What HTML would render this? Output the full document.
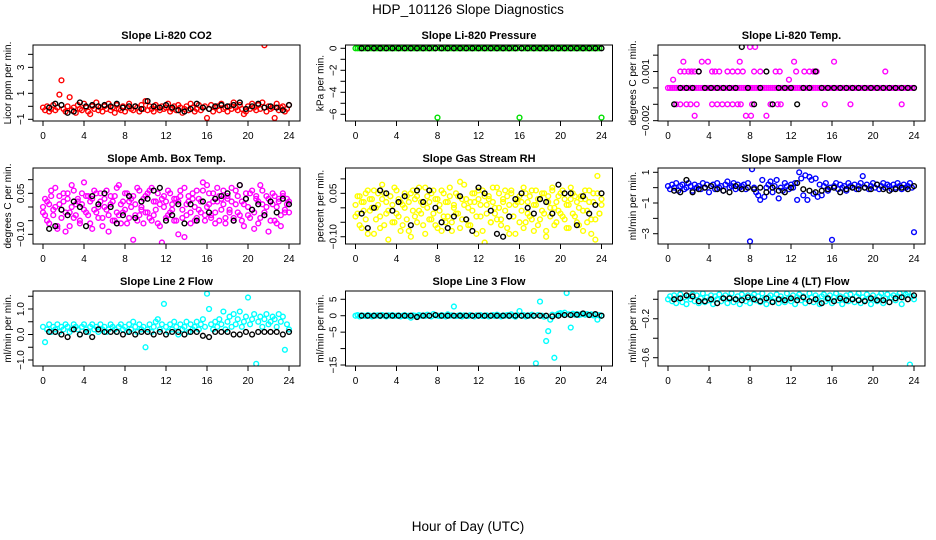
<!DOCTYPE html>
<html><head><meta charset="utf-8"><style>
html,body{margin:0;padding:0;background:#fff}
svg{display:block;font-family:"Liberation Sans",Arial,sans-serif}
</style></head><body>
<svg id="chart" width="936" height="540" viewBox="0 0 936 540" xmlns="http://www.w3.org/2000/svg">
<text x="468" y="14" text-anchor="middle" font-size="13.5">HDP_101126  Slope Diagnostics</text>
<text x="468" y="531" text-anchor="middle" font-size="13.5">Hour of Day (UTC)</text>
</svg>
<script>
const hourGrid=[0,0.2,0.4,0.6,0.8,1,1.2,1.4,1.6,1.8,2,2.2,2.4,2.6,2.8,3,3.2,3.4,3.6,3.8,4,4.2,4.4,4.6,4.8,5,5.2,5.4,5.6,5.8,6,6.2,6.4,6.6,6.8,7,7.2,7.4,7.6,7.8,8,8.2,8.4,8.6,8.8,9,9.2,9.4,9.6,9.8,10,10.2,10.4,10.6,10.8,11,11.2,11.4,11.6,11.8,12,12.2,12.4,12.6,12.8,13,13.2,13.4,13.6,13.8,14,14.2,14.4,14.6,14.8,15,15.2,15.4,15.6,15.8,16,16.2,16.4,16.6,16.8,17,17.2,17.4,17.6,17.8,18,18.2,18.4,18.6,18.8,19,19.2,19.4,19.6,19.8,20,20.2,20.4,20.6,20.8,21,21.2,21.4,21.6,21.8,22,22.2,22.4,22.6,22.8,23,23.2,23.4,23.6,23.8,24];
const blackHours=[0.6,1.2,1.8,2.4,3,3.6,4.2,4.8,5.4,6,6.6,7.2,7.8,8.4,9,9.6,10.2,10.8,11.4,12,12.6,13.2,13.8,14.4,15,15.6,16.2,16.8,17.4,18,18.6,19.2,19.8,20.4,21,21.6,22.2,22.8,23.4,24];
const xTicks=[0,4,8,12,16,20,24];

const co2Values=[-0.1,-0.3,0.0,-0.4,-0.2,0.1,-0.3,-0.1,0.9,2.0,-0.2,-0.4,0.0,0.7,-0.3,-0.1,-0.5,0.1,-0.2,-0.3,0.2,-0.1,-0.4,-0.6,0.0,-0.2,0.3,-0.3,-0.1,-0.4,0.0,-0.2,0.2,-0.3,-0.1,-0.5,0.1,-0.2,-0.3,0.0,-0.4,-0.1,0.2,-0.2,-0.3,0.0,-0.1,-0.4,0.1,-0.2,0.4,-0.3,0.0,-0.2,-0.4,0.1,-0.1,-0.3,0.0,-0.2,-0.1,0.2,-0.4,-0.2,0.0,-0.3,0.1,-0.1,-0.5,-0.2,0.0,-0.3,0.2,-0.1,-0.4,-0.2,0.1,-0.3,-0.1,0.0,-0.9,-0.2,0.1,-0.4,-0.1,0.0,-0.3,0.2,-0.2,-0.1,-0.4,0.0,-0.2,0.3,-0.1,-0.3,0.1,-0.2,-0.6,-0.4,0.0,-0.2,0.2,-0.1,-0.3,0.1,-0.2,0.3,4.7,-0.4,0.0,-0.2,-0.1,-0.9,0.2,-0.3,-0.1,0.0,-0.4,-0.2,0.1];
const co2Black=[-0.1,0.2,0.1,-0.5,-0.4,0.3,0.0,0.1,0.0,0.1,0.0,0.2,-0.1,0.0,0.0,-0.2,0.4,0.0,-0.1,0.1,-0.1,-0.3,-0.4,-0.2,0.2,-0.1,-0.2,0.0,0.1,0.0,0.1,0.3,-0.2,0.0,0.2,-0.1,0.0,-0.1,-0.3,0.1];

const pressureValues=[0,0,0,0,0,0,0,0,0,0,0,0,0,0,0,0,0,0,0,0,0,0,0,0,0,0,0,0,0,0,0,0,0,0,0,0,0,0,0,0,-6.3,0,0,0,0,0,0,0,0,0,0,0,0,0,0,0,0,0,0,0,0,0,0,0,0,0,0,0,0,0,0,0,0,0,0,0,0,0,0,0,-6.3,0,0,0,0,0,0,0,0,0,0,0,0,0,0,0,0,0,0,0,0,0,0,0,0,0,0,0,0,0,0,0,0,0,0,0,0,0,0,0,-6.3];
const pressureBlack=[0,0,0,0,0,0,0,0,0,0,0,0,0,0,0,0,0,0,0,0,0,0,0,0,0,0,0,0,0,0,0,0,0,0,0,0,0,0,0,0];

const tempValues=[0,0,0,0,0,0,0,0,0,0,0,0,0,0,0,0,0,0,0,0,0,0,0,0,0,0,0,0,0,0,0,0,0,0,0,0,0,0,0,0,0,0,0,0,0,0,0,0,0,0,0,0,0,0,0,0,0,0,0,0,0,0,0,0,0,0,0,0,0,0,0,0,0,0,0,0,0,0,0,0,0,0,0,0,0,0,0,0,0,0,0,0,0,0,0,0,0,0,0,0,0,0,0,0,0,0,0,0,0,0,0,0,0,0,0,0,0,0,0,0,0];
const tempExtraHours=[0.5,1.2,1.5,1.6,2.0,2.3,2.6,3.0,3.3,3.9,4.3,4.6,5.0,5.8,6.3,6.8,7.0,7.3,8.0,8.5,8.4,9.0,10.5,10.9,11.8,12.3,12.5,13.3,13.8,14.2,14.5,16.2,21.2,0.8,1.2,1.8,2.2,2.6,2.8,4.3,4.8,5.3,5.8,6.3,6.8,7.1,7.6,8.1,8.2,9.6,10.0,10.7,11.0,15.3,17.8,22.8];
const tempExtraValues=[0.0005,0.001,0.0016,0.001,0.001,0.001,0.001,0.001,0.0016,0.0016,0.001,0.001,0.001,0.001,0.001,0.001,0.0016,0.001,0.0025,0.0025,0.001,0.001,0.001,0.001,0.0005,0.0016,0.001,0.001,0.001,0.001,0.001,0.0016,0.001,-0.001,-0.001,-0.001,-0.001,-0.0017,-0.001,-0.001,-0.001,-0.001,-0.001,-0.001,-0.001,-0.001,-0.0017,-0.0017,-0.001,-0.0017,-0.001,-0.001,-0.001,-0.001,-0.001,-0.001];
const tempBlack=[-0.001,0,0,0,0.001,0,0,0,0,0,0,0.0025,0,-0.001,0,0.001,-0.001,0,0,0,-0.001,0,0,0.001,0,0,0,0,0,0,0,0,0,0,0,0,0,0,0,0];

const ambValues=[0.00,-0.03,0.02,-0.06,0.04,-0.01,0.07,-0.08,0.01,-0.04,0.05,-0.02,0.03,-0.07,0.00,0.06,-0.03,0.02,-0.05,0.01,0.09,-0.02,0.04,-0.06,0.03,-0.01,0.05,-0.04,0.02,-0.07,0.00,0.06,-0.03,0.01,-0.05,0.04,-0.02,0.08,-0.06,0.02,-0.01,0.05,-0.04,0.03,-0.12,0.01,0.07,-0.03,0.00,-0.06,0.04,-0.02,0.06,-0.05,0.02,-0.01,0.05,-0.07,0.03,0.00,-0.04,0.06,-0.02,0.01,-0.05,0.03,-0.10,0.04,-0.01,0.07,-0.03,0.02,-0.06,0.05,0.00,-0.04,0.03,-0.02,0.06,-0.05,0.08,0.01,-0.03,0.05,-0.06,0.02,0.04,-0.01,0.06,-0.04,0.03,-0.02,0.07,-0.05,0.01,0.04,-0.03,0.02,-0.07,0.05,0.00,-0.04,0.06,-0.02,0.03,-0.06,0.08,0.01,-0.03,0.04,-0.09,0.02,0.05,-0.05,0.00,0.03,-0.07,0.04,-0.02,0.01,0.02];
const ambValues2=[-0.02,0.03,-0.05,0.01,0.06,-0.03,0.00,-0.07,0.04,-0.01,0.02,-0.09,0.05,-0.02,0.08,-0.04,0.01,0.03,-0.06,0.05,-0.01,0.04,-0.03,0.02,-0.08,0.06,-0.02,0.00,0.05,-0.04,0.03,-0.01,-0.09,0.04,0.02,-0.05,0.07,-0.03,0.01,-0.02,0.05,-0.06,0.02,0.00,0.04,-0.03,-0.05,0.06,-0.01,0.03,-0.02,0.05,-0.04,0.07,-0.03,0.02,-0.06,0.01,-0.13,0.04,0.02,-0.03,0.05,-0.01,0.03,-0.05,0.02,0.06,-0.04,-0.11,0.01,0.04,-0.02,0.03,-0.05,0.06,-0.01,0.02,0.09,-0.03,0.00,0.05,-0.04,0.02,-0.02,0.07,-0.05,0.03,0.01,-0.06,0.04,-0.01,0.02,-0.04,0.06,-0.02,0.08,-0.05,0.01,0.03,-0.03,0.05,-0.01,-0.08,0.04,0.02,-0.04,0.06,-0.02,0.00,0.03,-0.05,0.01,0.04,-0.06,0.02,-0.03,0.05,-0.01,0.03,-0.02];
const ambBlack=[-0.08,-0.07,-0.01,-0.03,0.02,0.00,-0.07,0.04,0.01,0.05,0.00,-0.06,-0.03,0.04,-0.04,0.02,0.03,0.06,0.07,-0.05,-0.03,0.01,-0.06,0.01,-0.05,0.02,-0.02,0.03,0.04,0.05,-0.05,0.08,0.03,-0.01,0.01,-0.03,0.02,-0.02,0.03,0.01];

const rhValues=[0.01,-0.02,0.04,-0.07,0.02,-0.04,0.06,-0.01,0.03,-0.09,0.00,0.05,-0.03,0.08,-0.06,0.02,-0.01,0.04,-0.05,0.07,-0.02,0.03,-0.08,0.01,0.05,-0.04,0.02,-0.10,0.06,-0.03,0.04,-0.01,0.02,-0.06,0.07,0.00,-0.04,0.05,-0.02,0.03,-0.07,0.01,0.06,-0.03,-0.05,0.02,0.04,-0.08,0.00,0.05,-0.02,0.09,-0.04,0.01,0.03,-0.06,0.02,-0.01,0.05,-0.09,0.03,-0.03,0.06,-0.12,0.01,0.04,-0.05,0.02,-0.02,0.07,0.00,-0.04,0.03,0.06,-0.07,0.01,0.05,-0.03,-0.09,0.02,0.04,-0.01,0.07,-0.05,0.02,-0.03,0.06,-0.08,0.01,0.03,-0.04,0.05,-0.02,-0.10,0.04,0.00,0.06,-0.06,0.02,-0.01,0.05,-0.03,0.03,-0.07,0.01,0.07,-0.02,0.04,-0.05,0.00,0.03,-0.08,0.06,-0.01,0.02,-0.04,0.05,-0.11,0.11,-0.02,0.01];
const rhValues2=[-0.03,0.04,-0.06,0.02,-0.01,0.05,-0.09,0.03,0.00,0.06,-0.04,0.01,-0.07,0.03,0.05,-0.02,-0.11,0.04,0.01,-0.05,0.06,-0.03,0.02,-0.06,0.00,0.04,-0.08,0.05,-0.01,0.03,-0.05,0.07,-0.02,0.01,-0.09,0.04,0.02,-0.04,0.06,-0.06,0.03,-0.01,-0.08,0.05,0.02,-0.03,0.07,-0.05,0.01,-0.02,0.04,-0.07,0.03,0.08,-0.04,0.00,-0.06,0.05,0.02,-0.03,0.06,0.01,-0.08,0.04,-0.02,0.03,-0.05,0.07,0.00,-0.04,0.05,-0.06,0.02,-0.01,0.04,-0.09,0.06,-0.03,0.01,0.03,-0.05,0.02,-0.07,0.05,-0.02,0.04,-0.04,0.01,0.06,-0.06,0.03,-0.01,0.05,-0.08,0.02,-0.03,0.07,0.00,-0.05,0.04,-0.02,0.06,-0.04,0.01,-0.07,0.03,0.05,-0.03,0.02,-0.06,0.04,-0.01,0.03,-0.05,0.06,-0.09,0.02,-0.04,0.05,-0.02,0.03];
const rhBlack=[-0.02,-0.07,0.00,0.06,0.05,-0.01,0.02,0.04,-0.06,0.06,0.02,0.06,0.00,-0.05,-0.07,-0.03,0.04,-0.04,-0.08,0.07,0.05,-0.01,-0.09,-0.10,-0.03,0.03,0.05,0.00,-0.02,0.03,0.02,-0.02,0.08,0.05,0.05,-0.06,0.04,-0.02,0.01,0.05];

const sampleValues=[0.1,-0.1,0.2,0.0,0.3,-0.2,0.1,0.2,-0.1,0.0,0.3,0.1,-0.2,0.2,0.0,0.1,-0.1,0.3,0.0,0.2,-0.3,0.1,0.2,-0.1,0.3,0.0,0.1,-0.2,0.2,0.4,0.0,0.1,0.3,-0.1,0.2,0.0,0.1,0.2,-0.1,0.3,-3.5,1.2,0.0,-0.3,-0.5,-0.8,0.5,-0.6,0.0,0.2,0.4,-0.3,0.1,0.5,-0.7,0.0,-0.2,0.3,0.1,-0.1,0.2,0.0,0.3,-0.8,1.0,0.6,-0.5,0.8,-0.8,0.7,0.5,-0.4,0.6,-0.6,0.2,-0.5,0.1,0.3,-0.2,0.0,-3.4,0.1,0.3,-0.1,0.2,0.0,0.1,-0.2,0.3,0.1,0.0,0.2,-0.1,0.1,0.3,0.75,0.0,0.2,-0.1,0.1,0.3,0.0,0.2,-0.1,0.1,0.3,0.0,0.2,0.1,-0.1,0.2,0.0,0.3,0.1,-0.1,0.2,0.0,0.1,0.3,0.0,-2.9];
const sampleBlack=[-0.2,-0.3,0.5,-0.3,-0.1,0.0,0.1,-0.1,-0.2,-0.3,0.1,-0.1,0.0,-0.1,0.0,-0.3,0.0,-0.2,-0.3,0.0,0.3,-0.1,-0.2,-0.3,-0.2,-0.1,0.0,-0.3,-0.1,0.0,-0.1,0.0,-0.1,0.2,-0.1,-0.2,-0.1,0.0,-0.1,0.1];

const line2Values=[0.3,-0.3,0.2,0.4,0.1,0.3,0.2,0.4,0.1,0.3,0.2,0.4,0.3,0.1,0.2,0.4,0.3,0.2,0.0,0.3,0.4,0.2,0.1,0.3,0.4,0.2,0.3,0.1,0.4,0.2,0.3,0.1,0.2,0.4,0.3,0.2,0.1,0.3,0.4,0.2,0.3,0.1,0.4,0.2,0.5,0.3,0.1,0.4,0.2,0.3,-0.5,0.2,0.4,0.1,0.3,0.5,0.6,0.2,0.4,1.2,0.3,0.1,0.4,0.2,0.5,0.3,0.0,0.4,0.2,0.3,0.5,0.1,0.4,0.2,0.3,0.5,0.2,0.4,0.6,0.3,1.6,1.0,0.4,0.2,0.5,0.3,0.6,0.4,0.9,0.2,0.5,0.7,0.3,0.8,0.4,0.6,0.9,0.3,0.5,0.7,1.45,0.4,0.6,0.8,-1.15,0.5,0.7,0.3,0.6,0.8,0.4,0.5,0.7,0.6,0.3,0.8,0.5,0.7,-0.6,0.4,0.2];
const line2Black=[0.1,0.1,0.0,-0.1,0.2,0.0,0.1,-0.1,0.2,0.1,0.1,0.1,0.0,0.1,0.0,0.1,0.1,0.0,0.1,0.0,0.1,0.1,0.0,0.1,0.1,-0.05,-0.1,0.1,0.1,0.1,0.0,0.0,0.1,0.0,0.1,0.1,0.1,0.1,0.0,0.1];

const line3Values=[0.0,0.2,-0.2,0.1,0.0,-0.1,0.2,0.0,-0.2,0.1,0.0,0.1,-0.1,0.2,0.0,-0.2,0.1,0.0,0.2,-0.1,0.0,0.1,-0.2,0.0,0.2,-0.1,0.0,-0.6,0.1,0.0,-0.2,0.2,0.0,0.1,-0.1,0.3,0.0,-0.2,0.5,0.1,0.0,-0.1,0.2,0.0,-0.2,0.4,0.0,0.1,2.8,-0.1,0.0,0.2,-0.2,0.1,0.0,-0.1,0.2,0.0,-0.2,0.1,0.0,0.2,-0.1,0.0,0.1,-0.2,0.0,0.2,-0.1,0.3,0.0,-0.2,0.1,0.0,0.2,-0.1,0.4,0.0,-0.3,0.2,1.4,0.0,0.2,-0.2,0.1,0.0,0.3,-0.1,-14.5,0.2,4.3,0.0,-0.3,-7.7,-4.7,-1.2,0.3,-12.8,0.2,0.6,0.8,0.5,0.9,6.9,0.4,-3.6,0.6,0.3,0.5,0.2,0.4,0.6,0.3,0.5,0.2,0.4,0.1,0.3,-1.2,0.2,0.0];
const line3Black=[0,0,0,0,0,0,0,0,0,-0.4,0,0,0.2,0,0,0,0,0,0,0,0,0,0,0,0,0,0,0,0,0,0,-0.2,0,0.2,0.2,0.3,0.7,0.2,0.5,0.0];

const line4Values=[0.00,0.03,-0.02,0.04,-0.04,0.01,0.05,-0.03,0.02,-0.05,0.03,0.00,0.05,-0.02,0.04,-0.04,0.01,0.06,-0.03,0.02,-0.01,0.04,-0.05,0.03,0.00,0.05,-0.02,0.01,0.04,-0.04,0.02,0.06,-0.03,0.00,0.03,-0.05,0.05,0.01,-0.02,0.04,-0.04,0.02,0.05,-0.01,0.03,-0.03,0.06,0.00,-0.05,0.02,0.04,-0.02,0.01,0.05,-0.04,0.03,0.00,-0.03,0.06,0.01,-0.02,0.04,-0.05,0.02,0.05,-0.01,0.03,-0.04,0.00,0.06,0.02,-0.03,0.04,0.01,-0.05,0.03,0.05,-0.02,0.00,0.04,-0.04,0.02,0.06,-0.01,0.03,-0.05,0.01,0.04,-0.02,0.05,0.00,-0.03,0.03,0.06,-0.04,0.02,-0.01,0.05,0.01,-0.05,0.04,0.00,-0.02,0.03,0.06,-0.04,0.01,0.05,-0.03,0.02,0.04,-0.01,0.03,0.06,-0.05,0.02,0.05,0.07,-0.67,0.03,0.00];
const line4Black=[0.00,0.01,0.04,0.03,-0.02,-0.02,0.00,-0.04,0.01,0.01,0.00,-0.01,0.02,0.00,-0.02,0.01,-0.03,0.00,-0.01,0.01,-0.01,0.02,-0.02,0.00,-0.04,0.01,-0.02,0.01,-0.01,0.00,-0.01,-0.02,0.01,-0.01,-0.01,-0.03,0.01,0.02,0.00,0.04];

const NS='http://www.w3.org/2000/svg';
const svg=document.getElementById('chart');
function mk(tag,attrs,parent){const e=document.createElementNS(NS,tag);for(const k in attrs)e.setAttribute(k,attrs[k]);(parent||svg).appendChild(e);return e;}

const colLefts=[33,345.5,658];
const rowTops=[45,168,291];
const rowBottoms=[121,244,366];
const boxW=267;

const panels=[
 {name:'co2',title:'Slope Li-820 CO2',ylab:'Licor ppm per min.',dom:[-1.13,4.72],ticks:[-1,0,1,2,3,4],labels:{'-1':'\u22121','1':'1','3':'3'},color:'#ff0000',series:[[hourGrid,co2Values]],black:co2Black},
 {name:'pressure',title:'Slope Li-820 Pressure',ylab:'kPa per min.',dom:[-6.61,0.3],ticks:[0,-1,-2,-3,-4,-5,-6],labels:{'0':'0','-2':'\u22122','-4':'\u22124','-6':'\u22126'},color:'#00e000',series:[[hourGrid,pressureValues]],black:pressureBlack},
 {name:'temp',title:'Slope Li-820 Temp.',ylab:'degrees C per min.',dom:[-0.00202,0.00262],ticks:[-0.002,-0.001,0,0.001,0.002],labels:{'0.001':'0.001','-0.002':'\u22120.002'},color:'#ff00ff',series:[[hourGrid,tempValues],[tempExtraHours,tempExtraValues]],black:tempBlack},
 {name:'amb-temp',title:'Slope Amb. Box Temp.',ylab:'degrees C per min.',dom:[-0.1354,0.1427],ticks:[-0.1,-0.05,0,0.05,0.1],labels:{'0.05':'0.05','-0.1':'\u22120.10'},color:'#ff00ff',series:[[hourGrid,ambValues],[hourGrid,ambValues2]],black:ambBlack},
 {name:'rh',title:'Slope Gas Stream RH',ylab:'percent per min.',dom:[-0.1251,0.1376],ticks:[-0.1,-0.05,0,0.05,0.1],labels:{'0.05':'0.05','-0.1':'\u22120.10'},color:'#ffff00',series:[[hourGrid,rhValues],[hourGrid,rhValues2]],black:rhBlack},
 {name:'sample-flow',title:'Slope Sample Flow',ylab:'ml/min per min.',dom:[-3.67,1.28],ticks:[1,0,-1,-2,-3],labels:{'1':'1','-1':'\u22121','-3':'\u22123'},color:'#0000ff',series:[[hourGrid,sampleValues]],black:sampleBlack},
 {name:'line2-flow',title:'Slope Line 2 Flow',ylab:'ml/min per min.',dom:[-1.235,1.706],ticks:[-1,-0.5,0,0.5,1,1.5],labels:{'1':'1.0','0':'0.0','-1':'\u22121.0'},color:'#00ffff',series:[[hourGrid,line2Values]],black:line2Black},
 {name:'line3-flow',title:'Slope Line 3 Flow',ylab:'ml/min per min.',dom:[-15.3,7.52],ticks:[5,0,-5,-10,-15],labels:{'5':'5','0':'0','-5':'\u22125','-15':'\u221215'},color:'#00ffff',series:[[hourGrid,line3Values]],black:line3Black},
 {name:'line4-flow',title:'Slope Line 4 (LT) Flow',ylab:'ml/min per min.',dom:[-0.685,0.085],ticks:[0,-0.2,-0.4,-0.6],labels:{'-0.2':'\u22120.2','-0.6':'\u22120.6'},color:'#00ffff',series:[[hourGrid,line4Values]],black:line4Black}
];

panels.forEach((p,i)=>{
  const L=colLefts[i%3], T=rowTops[Math.floor(i/3)], B=rowBottoms[Math.floor(i/3)];
  const g=mk('g',{});
  
  
  const xs=h=>L+10+h*(246/24);
  const ys=v=>B-(v-p.dom[0])/(p.dom[1]-p.dom[0])*(B-T);
  const clip=mk('clipPath',{id:'clip'+i},g);
  mk('rect',{x:L,y:T,width:boxW,height:B-T},clip);
  const t=mk('text',{x:L+boxW/2,y:T-6,'text-anchor':'middle','font-size':'11','font-weight':'bold'},g);
  t.textContent=p.title;
  
  
  const pts=mk('g',{'clip-path':'url(#clip'+i+')',fill:'none','stroke-width':'1.4'},g);
  
  
  p.series.forEach(s=>{
    s[1].forEach((v,k)=>{
      const c=mk('circle',{cx:xs(s[0][k]),cy:ys(v),r:2.4,stroke:p.color},pts);
      
      
    });
  });
  p.black.forEach((v,k)=>{
    const c=mk('circle',{cx:xs(blackHours[k]),cy:ys(v),r:2.4,stroke:'#000'},pts);
    
    
  });
  const box=mk('rect',{x:L,y:T,width:boxW,height:B-T,fill:'none',stroke:'#000','stroke-width':'1'},g);
  
  
  const ax=mk('g',{stroke:'#000','stroke-width':'1'},g);
  
  
  mk('line',{x1:xs(0),x2:xs(24),y1:B,y2:B},ax);
  xTicks.forEach(h=>{
    mk('line',{x1:xs(h),x2:xs(h),y1:B,y2:B+5},ax);
    const tl=mk('text',{x:xs(h),y:B+18,'text-anchor':'middle','font-size':'10',stroke:'none',fill:'#000'},ax);
    tl.textContent=String(h);
  });
  const ay=mk('g',{stroke:'#000','stroke-width':'1'},g);
  
  
  const tv=p.ticks.map(ys);
  mk('line',{x1:L,x2:L,y1:Math.min(...tv),y2:Math.max(...tv)},ay);
  p.ticks.forEach(v=>{
    const y=ys(v);
    mk('line',{x1:L-5,x2:L,y1:y,y2:y},ay);
    const key=String(v);
    if(p.labels[key]!==undefined){
      const tl=mk('text',{x:L-9,y:y,'text-anchor':'middle','font-size':'10',stroke:'none',fill:'#000',transform:'rotate(-90 '+(L-9)+' '+y+')'},ay);
      tl.textContent=p.labels[key];
    }
  });
  const yl=mk('text',{x:L-22,y:(T+B)/2,'text-anchor':'middle','font-size':'10',transform:'rotate(-90 '+(L-22)+' '+((T+B)/2)+')'},g);
  yl.textContent=p.ylab;
  
  
});
</script>
</body></html>
